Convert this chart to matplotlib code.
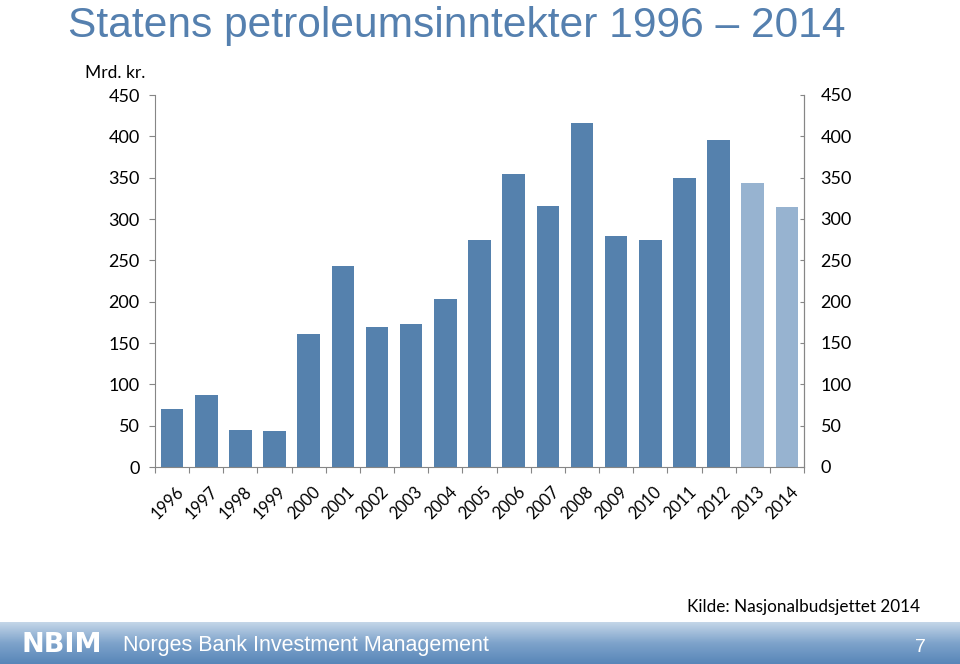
import numpy as np
import matplotlib.pyplot as plt
from matplotlib.colors import LinearSegmentedColormap

years = [str(y) for y in range(1996, 2015)]
values = [70, 87, 45, 44, 161, 243, 169, 173, 203, 275, 355, 316, 416, 279, 275, 350, 395, 344, 314]
estimated = ['2013', '2014']

dark = '#5581AD'
light = '#97B3D0'
axis_grey = '#868686'
label_font = ['Lato', 'DejaVu Sans']

fig = plt.figure(figsize=(9.6, 6.64), dpi=100, facecolor='white')

ax = fig.add_axes([155 / 960, 1 - 467 / 664, (804 - 155) / 960, (467 - 95) / 664])
x = np.arange(len(years))
colors = [light if y in estimated else dark for y in years]
ax.bar(x, values, width=0.66, color=colors)
ax.set_xlim(-0.5, len(years) - 0.5)
ax.set_ylim(0, 450)
ax.set_yticks(range(0, 451, 50))
ax.tick_params(axis='y', direction='out', length=4, color=axis_grey, labelsize=13, pad=7)
for lab in ax.get_yticklabels():
    lab.set_family(label_font)

ax.set_xticks(np.arange(-0.5, len(years), 1.0))
ax.set_xticklabels([])
ax.tick_params(axis='x', direction='out', length=4, color=axis_grey)
for i, y in enumerate(years):
    ax.text(i + 0.1, -20, y, rotation=45, ha='right', va='top', rotation_mode='anchor',
            fontsize=12, family=label_font)

ax.spines['top'].set_visible(False)
for side in ['left', 'bottom', 'right']:
    ax.spines[side].set_color(axis_grey)

ax2 = ax.twinx()
ax2.set_ylim(0, 450)
ax2.set_yticks(range(0, 451, 50))
ax2.tick_params(axis='y', direction='in', length=3, color=axis_grey, labelsize=13, pad=12)
for lab in ax2.get_yticklabels():
    lab.set_family(label_font)
for side in ['top', 'left', 'bottom']:
    ax2.spines[side].set_visible(False)
ax2.spines['right'].set_color(axis_grey)

fig.text(68 / 960, 1 - 37 / 664, 'Statens petroleumsinntekter 1996 – 2014', fontsize=30.6,
         color='#5580AF', family='Liberation Sans', va='baseline')
fig.text(85 / 960, 1 - 73 / 664, 'Mrd. kr.', fontsize=12.5, family=label_font, va='center')
fig.text(920 / 960, 1 - 607 / 664, 'Kilde: Nasjonalbudsjettet 2014', fontsize=12.3,
         family=label_font, ha='right', va='center')

# footer band
fax = fig.add_axes([0, 0, 1, 42 / 664])
cmap = LinearSegmentedColormap.from_list('band', ['#5886B8', '#7ea3cb', '#c4d6e8'])
grad = np.linspace(0, 1, 100).reshape(-1, 1)
fax.imshow(grad, aspect='auto', cmap=cmap, origin='lower', extent=[0, 1, 0, 1])
fax.set_axis_off()
fax.text(22 / 960, 0.45, 'NBIM', color='white', fontsize=19.5, fontweight='bold',
         family='DejaVu Sans', va='center')
fax.text(123 / 960, 0.45, 'Norges Bank Investment Management', color='white', fontsize=15.5,
         family='Liberation Sans', va='center')
fax.text(920 / 960, 0.4, '7', color='white', fontsize=14, family='Liberation Sans',
         ha='center', va='center')

fig.savefig('out.png', dpi=100, facecolor='white')
